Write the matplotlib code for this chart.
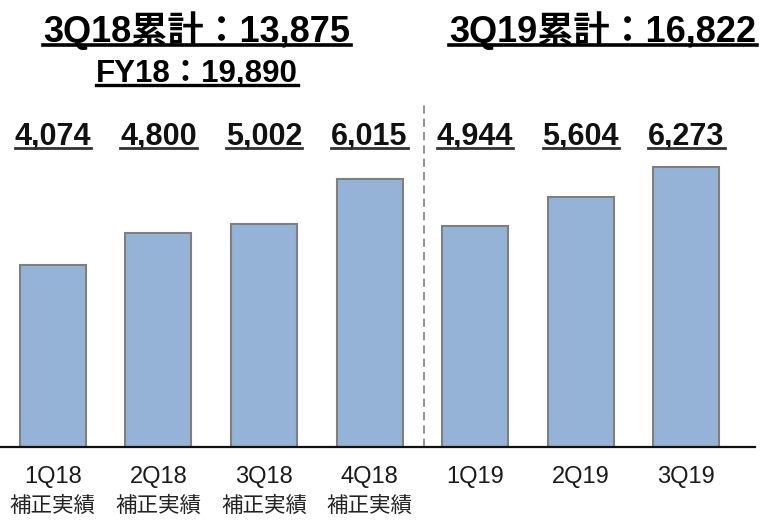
import matplotlib
matplotlib.use('Agg')
import matplotlib.pyplot as plt
from matplotlib.lines import Line2D

quarters = ['1Q18', '2Q18', '3Q18', '4Q18', '1Q19', '2Q19', '3Q19']
sublabels = ['補正実績', '補正実績', '補正実績', '補正実績', '', '', '']
values = [4074, 4800, 5002, 6015, 4944, 5604, 6273]
titles = ['3Q18累計：13,875', 'FY18：19,890', '3Q19累計：16,822']

plt.rcParams['font.family'] = ['Liberation Sans', 'Noto Sans CJK JP', 'DejaVu Sans']

W, H = 761, 523
fig = plt.figure(figsize=(W / 100, H / 100), dpi=100)


def fx(px):
    return px / W


def fy(py):
    return 1 - py / H


# axes: baseline at y=447px, top at 100px
ax = fig.add_axes([0, fy(447), fx(755), fy(100) - fy(447)])
k = 0.0446  # px per unit
ax.set_ylim(0, 347 / k)
ax.set_xlim(-0.5, 6.65)

x = list(range(len(quarters)))
ax.bar(x, values, width=0.625, color='#95b3d7', edgecolor='#7f7f7f', linewidth=1.5)

for s in ['top', 'right', 'left']:
    ax.spines[s].set_visible(False)
ax.spines['bottom'].set_linewidth(1.6)
ax.spines['bottom'].set_color('#111111')
ax.set_yticks([])
ax.set_xticks([])

# dashed separator between FY18 and FY19
ax.plot([3.52, 3.52], [0, (447 - 105) / k], linestyle=(0, (5, 3)),
        color='#808080', linewidth=1.2, clip_on=False)

texts = []
for xi, v in zip(x, values):
    t = ax.text(xi, (447 - 145) / k, f'{v:,}', ha='center', va='baseline',
                fontsize=22, fontweight='bold', color='#111111')
    texts.append((t, 3, 2.0, '#333333'))
    ax.text(xi, -(477 - 447) / k, quarters[xi], ha='center', va='center',
            fontsize=17, color='#1a1a1a')
    if sublabels[xi]:
        ax.text(xi, -(506 - 447) / k, sublabels[xi], ha='center', va='center',
                fontsize=15.5, color='#222222')

t1 = fig.text(fx(197), fy(42), titles[0], ha='center', va='baseline',
              fontsize=26, fontweight='bold', color='#000000')
t2 = fig.text(fx(197), fy(82), titles[1], ha='center', va='baseline',
              fontsize=22.5, fontweight='bold', color='#000000')
t3 = fig.text(fx(603), fy(42), titles[2], ha='center', va='baseline',
              fontsize=26, fontweight='bold', color='#000000')
texts += [(t1, 2.5, 2.6, '#000000'), (t2, 3, 2.4, '#000000'), (t3, 2.5, 2.6, '#000000')]

fig.canvas.draw()
r = fig.canvas.get_renderer()
for t, off, lw, col in texts:
    bb = t.get_window_extent(r)
    xpos, ypos = t.get_transform().transform(t.get_position())
    yl = (ypos - off) / H
    fig.add_artist(Line2D([bb.x0 / W, bb.x1 / W], [yl, yl], transform=fig.transFigure,
                          color=col, linewidth=lw))

fig.savefig('out.png', dpi=100)
